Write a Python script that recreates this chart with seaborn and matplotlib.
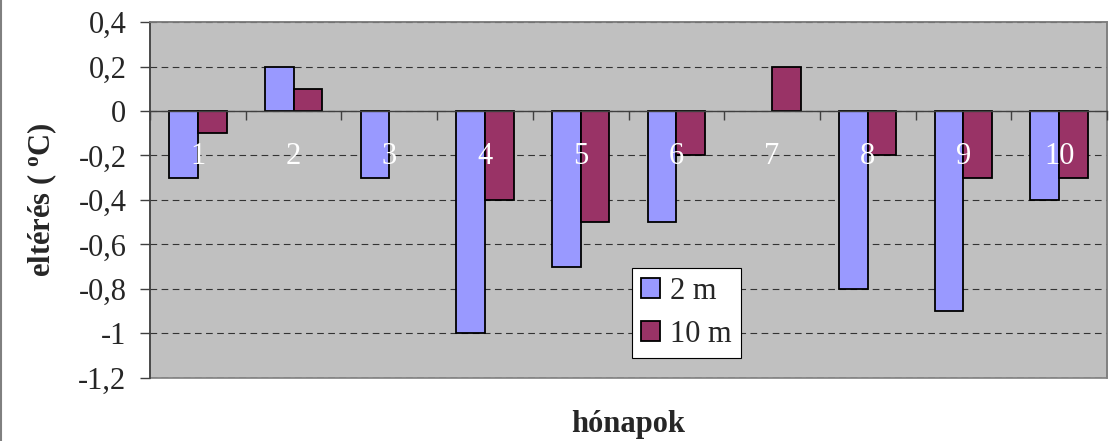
import numpy as np
import pandas as pd
import matplotlib
matplotlib.use("Agg")
import matplotlib.pyplot as plt
import seaborn as sns
from matplotlib.lines import Line2D

# Monthly deviations at two measuring heights
months = ["1", "2", "3", "4", "5", "6", "7", "8", "9", "10"]
dev_2m = [-0.3, 0.2, -0.3, -1.0, -0.7, -0.5, 0.0, -0.8, -0.9, -0.4]
dev_10m = [-0.1, 0.1, 0.0, -0.4, -0.5, -0.2, 0.2, -0.2, -0.3, -0.3]
series_names = ["2 m", "10 m"]
y_ticks = [0.4, 0.2, 0.0, -0.2, -0.4, -0.6, -0.8, -1.0, -1.2]
y_tick_labels = ["0,4", "0,2", "0", "-0,2", "-0,4", "-0,6", "-0,8", "-1", "-1,2"]

df = pd.DataFrame({
    "month": months * 2,
    "value": dev_2m + dev_10m,
    "series": [series_names[0]] * len(months) + [series_names[1]] * len(months),
})

sns.set_theme(style="white")
plt.rcParams["font.family"] = ["Liberation Serif", "DejaVu Serif"]
plt.rcParams["mathtext.fontset"] = "custom"
plt.rcParams["mathtext.rm"] = "Liberation Serif"
plt.rcParams["mathtext.bf"] = "Liberation Serif:bold"
plt.rcParams["axes.unicode_minus"] = False

FS = 22

fig = plt.figure(figsize=(11.13, 4.41), dpi=100)
ax = fig.add_axes([0.1348, 0.1429, 0.9946 - 0.1348, 0.9501 - 0.1429])

palette = {"2 m": "#9999FF", "10 m": "#993366"}
sns.barplot(data=df, x="month", y="value", hue="series", order=months,
            hue_order=series_names, palette=palette, width=0.6,
            edgecolor="black", linewidth=1.3, saturation=1, ax=ax,
            errorbar=None)

# bars with no deviation leave no outline on the zero line
for p in ax.patches:
    if p.get_height() == 0:
        p.set_linewidth(0)

ax.set_facecolor("#C0C0C0")
ax.set_ylim(-1.2, 0.4)
ax.set_xlim(-0.5, len(months) - 0.5)

# y axis: comma decimals, dashed grid
ax.set_yticks(y_ticks)
ax.set_yticklabels(y_tick_labels, fontsize=FS)
ax.tick_params(axis="y", direction="out", length=7, width=1, color="#404040",
               pad=10, left=True)
ax.yaxis.grid(True, color="#333333", linestyle=(0, (6, 4)), linewidth=0.8)
ax.xaxis.grid(False)
ax.set_axisbelow(True)
ax.xaxis.set_zorder(3)

# category axis crossing at zero, with ticks between categories
ax.spines["bottom"].set_position(("data", 0))
ax.spines["bottom"].set_color("#404040")
ax.spines["bottom"].set_linewidth(1)
ax.spines["left"].set_color("#404040")
ax.spines["left"].set_linewidth(1.2)
for s in ("top", "right"):
    ax.spines[s].set_color("#808080")
    ax.spines[s].set_linewidth(1.2)
ax.patch.set_edgecolor("#808080")
ax.patch.set_linewidth(1.2)

ax.set_xticks(np.arange(len(months) + 1) - 0.5)
ax.set_xticklabels([])
ax.tick_params(axis="x", which="major", direction="out", length=6.5,
               width=1, color="#404040", bottom=True)
ax.set_xticks(np.arange(len(months)), minor=True)
ax.set_xticklabels(months, minor=True, fontsize=FS, color="white")
ax.tick_params(axis="x", which="minor", length=0, pad=22)

ax.set_xlabel("hónapok", fontsize=FS, fontweight="bold", labelpad=0)
ax.xaxis.set_label_coords(0.5, -0.09)
ax.set_ylabel(r"eltérés ( $\mathbf{^{o}}$C)", fontsize=FS,
              fontweight="bold", labelpad=14)

leg = ax.legend(loc="upper left", bbox_to_anchor=(0.5037, 0.309),
                fontsize=FS, frameon=True, fancybox=False, shadow=False,
                handlelength=0.62, handleheight=0.62, handletextpad=0.33,
                labelspacing=0.45, borderpad=0.3, borderaxespad=0,
                title=None)
leg.get_frame().set_edgecolor("black")
leg.get_frame().set_linewidth(0.8)
leg.get_frame().set_facecolor("white")
leg.get_frame().set_alpha(1)
for h in leg.legend_handles:
    h.set_edgecolor("black")
    h.set_linewidth(1.3)

# chart area border on the left edge
fig.add_artist(Line2D([0.001, 0.001], [0, 1], transform=fig.transFigure,
                      color="#808080", linewidth=1.5))

fig.savefig("out.png", dpi=100)
